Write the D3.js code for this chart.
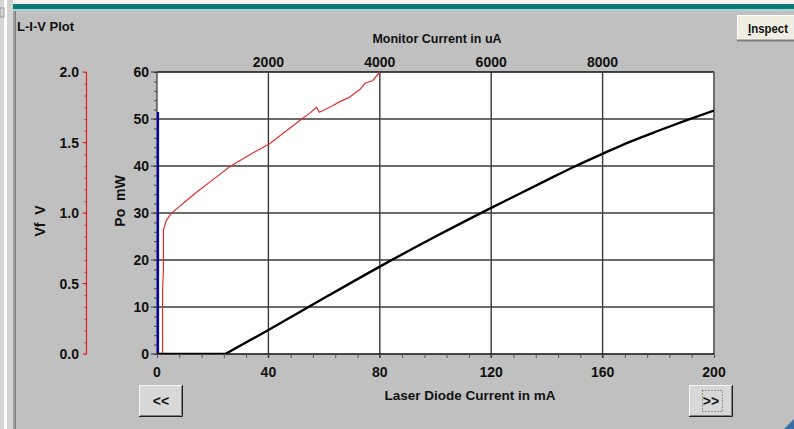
<!DOCTYPE html>
<html>
<head>
<meta charset="utf-8">
<script src="https://cdn.jsdelivr.net/npm/d3@7"></script>
<style>
  html, body { margin: 0; padding: 0; background: #c0c0c0; }
  svg { display: block; }
  text { font-family: "Liberation Sans", Arial, sans-serif; font-weight: bold; fill: #111; }
</style>
</head>
<body>
<svg id="chart" width="794" height="429"></svg>
<script>
// Laser diode current (mA) and optical power Po (mW)
const powerCurrent = [0, 24.5, 40, 60, 80, 100, 120, 140, 150, 160, 170, 180, 190, 200];
const powerValues  = [0, 0, 5.1, 11.9, 18.6, 25, 31.1, 37, 39.9, 42.6, 45.2, 47.5, 49.7, 51.8];

// Laser diode current (mA) and forward voltage Vf (V)
const voltCurrent = [2.0, 2.0, 2.3, 2.3, 3.4, 5.3, 7.7, 10.7, 15, 20, 26.2, 33, 40.3, 46, 52, 55, 57.3, 58.3, 60, 63, 65.7, 69, 72.9, 74.7, 77.5, 80];
const voltValues  = [0, 0.45, 0.6, 0.88, 0.95, 1.0, 1.04, 1.09, 1.16, 1.235, 1.33, 1.41, 1.49, 1.576, 1.667, 1.71, 1.75, 1.715, 1.73, 1.76, 1.79, 1.82, 1.877, 1.92, 1.94, 2.0];

// Monitor photodiode current (uA) against Po (mW)
const monitorCurrent = [0, 0];
const monitorPower   = [0, 51.5];

// Tick labels
const bottomTicks = [0, 40, 80, 120, 160, 200];
const topTicks    = [2000, 4000, 6000, 8000];
const powerTicks  = [0, 10, 20, 30, 40, 50, 60];
const voltTicks   = [0.0, 0.5, 1.0, 1.5, 2.0];

const svg = d3.select("#chart");

// ---- window chrome ----
svg.append("rect").attr("x", 0).attr("y", 0).attr("width", 794).attr("height", 429).attr("fill", "#c0c0c0");
svg.append("rect").attr("x", 12).attr("y", 0).attr("width", 782).attr("height", 4).attr("fill", "#f4f4f4");
svg.append("rect").attr("x", 12).attr("y", 4).attr("width", 782).attr("height", 5).attr("fill", "#0c7c78");
svg.append("rect").attr("x", 12).attr("y", 9).attr("width", 782).attr("height", 2).attr("fill", "#a8d4d0");
svg.append("rect").attr("x", 0).attr("y", 0).attr("width", 4).attr("height", 429).attr("fill", "#d6d6d6");
svg.append("rect").attr("x", 4).attr("y", 0).attr("width", 3).attr("height", 429).attr("fill", "#ffffff");
svg.append("rect").attr("x", 7).attr("y", 0).attr("width", 6).attr("height", 429).attr("fill", "#d2d2d2");
svg.append("rect").attr("x", 13).attr("y", 11).attr("width", 2).attr("height", 418).attr("fill", "#a0a0a0");
svg.append("rect").attr("x", 15).attr("y", 11).attr("width", 1).attr("height", 418).attr("fill", "#7a7a7a");
svg.append("rect").attr("x", 0).attr("y", 8).attr("width", 4).attr("height", 9).attr("fill", "none").attr("stroke", "#9a9a9a");
svg.append("path").attr("d", "M784,429 L794,419 L794,429 Z").attr("fill", "#3a6ea5");

svg.append("text").attr("x", 17).attr("y", 31).attr("font-size", 13).text("L-I-V Plot");

// Inspect button (runs off the window's right edge)
const ib = svg.append("g");
ib.append("rect").attr("x", 737).attr("y", 15).attr("width", 60).attr("height", 25).attr("fill", "#f0eee2");
ib.append("path").attr("d", "M737.5,40 L737.5,15.5 L797,15.5").attr("fill", "none").attr("stroke", "#ffffff");
ib.append("path").attr("d", "M737,40.5 L797,40.5").attr("fill", "none").attr("stroke", "#808080").attr("stroke-width", 2);
const it = ib.append("text").attr("x", 748).attr("y", 33).attr("font-size", 13)
  .attr("textLength", 40).attr("lengthAdjust", "spacingAndGlyphs");
it.append("tspan").attr("text-decoration", "underline").text("I");
it.append("tspan").text("nspect");

// ---- scales ----
const L = 157, R = 714, T = 72, B = 354;
const x = d3.scaleLinear().domain([0, 200]).range([L, R]);
const xTop = d3.scaleLinear().domain([0, 10000]).range([L, R]);
const y = d3.scaleLinear().domain([0, 60]).range([B, T]);
const yV = d3.scaleLinear().domain([0, 2]).range([B, T]);

// plot area
svg.append("rect").attr("x", L).attr("y", T).attr("width", R - L).attr("height", B - T).attr("fill", "#ffffff");

svg.append("defs").append("clipPath").attr("id", "plotClip")
  .append("rect").attr("x", L).attr("y", T - 1).attr("width", R - L).attr("height", B - T + 1);

// grid
const grid = svg.append("g").attr("stroke", "#3a3a3a").attr("stroke-width", 1.4);
grid.selectAll("line.h").data(powerTicks.filter(v => v > 0 && v < 60)).join("line")
  .attr("x1", L).attr("x2", R).attr("y1", d => y(d)).attr("y2", d => y(d));
grid.selectAll("line.v").data(bottomTicks.filter(v => v > 0 && v < 200)).join("line")
  .attr("y1", T).attr("y2", B + 4).attr("x1", d => x(d)).attr("x2", d => x(d));

// plot borders
svg.append("line").attr("x1", L).attr("x2", R).attr("y1", T).attr("y2", T).attr("stroke", "#111").attr("stroke-width", 1.5);
svg.append("line").attr("x1", L).attr("x2", L).attr("y1", T).attr("y2", B).attr("stroke", "#111").attr("stroke-width", 1);
svg.append("line").attr("x1", R).attr("x2", R).attr("y1", T).attr("y2", B).attr("stroke", "#6a6a6a").attr("stroke-width", 2);
svg.append("line").attr("x1", L).attr("x2", R).attr("y1", B).attr("y2", B).attr("stroke", "#111").attr("stroke-width", 1.5);

// ---- axes ----
function styleAxis(g, color) {
  g.select(".domain").remove();
  g.selectAll(".tick line").attr("stroke", color);
}

// bottom axis: minor ticks every 8 mA, labels at 40 mA steps
const bottomAxis = svg.append("g").attr("transform", `translate(0,${B})`);
bottomAxis.call(d3.axisBottom(x).tickValues(d3.range(0, 201, 8)).tickSize(4).tickFormat(""));
styleAxis(bottomAxis, "#555");
svg.append("g").selectAll("text").data(bottomTicks).join("text")
  .attr("x", d => x(d)).attr("y", 377).attr("text-anchor", "middle").attr("font-size", 14).text(d => d);

// top axis labels (monitor current)
svg.append("g").selectAll("text").data(topTicks).join("text")
  .attr("x", d => xTop(d)).attr("y", 67).attr("text-anchor", "middle").attr("font-size", 14).text(d => d);

// Po axis
const powerAxis = svg.append("g").attr("transform", `translate(${L},0)`);
powerAxis.call(d3.axisLeft(y).tickValues(d3.range(0, 61, 2)).tickSize(3).tickFormat(""));
styleAxis(powerAxis, "#444");
svg.append("g").selectAll("line").data(powerTicks).join("line")
  .attr("x1", L - 6).attr("x2", L).attr("y1", d => y(d)).attr("y2", d => y(d)).attr("stroke", "#333");
svg.append("g").selectAll("text").data(powerTicks).join("text")
  .attr("x", 149).attr("y", d => y(d) + 5).attr("text-anchor", "end").attr("font-size", 14).text(d => d);

// Vf axis
const vx = 86.5;
svg.append("line").attr("x1", vx).attr("x2", vx).attr("y1", T).attr("y2", B).attr("stroke", "#e02020").attr("stroke-width", 1.2);
const voltAxis = svg.append("g").attr("transform", `translate(${vx},0)`);
voltAxis.call(d3.axisLeft(yV).tickValues(d3.range(0, 25).map(i => i / 12)).tickSize(2).tickFormat(""));
styleAxis(voltAxis, "#e02020");
svg.append("g").selectAll("line").data(voltTicks).join("line")
  .attr("x1", vx - 4).attr("x2", vx).attr("y1", d => yV(d)).attr("y2", d => yV(d)).attr("stroke", "#e02020");
svg.append("g").selectAll("text").data(voltTicks).join("text")
  .attr("x", 79).attr("y", d => yV(d) + 5).attr("text-anchor", "end").attr("font-size", 14).text(d => d.toFixed(1));

// axis titles
svg.append("text").attr("x", 437).attr("y", 43).attr("text-anchor", "middle").attr("font-size", 12.5).text("Monitor Current in uA");
svg.append("text").attr("x", 470).attr("y", 400).attr("text-anchor", "middle").attr("font-size", 13.5).text("Laser Diode Current in mA");
svg.append("text").attr("transform", "translate(125,201) rotate(-90)").attr("text-anchor", "middle").attr("font-size", 14)
  .attr("xml:space", "preserve").text("Po  mW");
svg.append("text").attr("transform", "translate(45,221) rotate(-90)").attr("text-anchor", "middle").attr("font-size", 14)
  .attr("xml:space", "preserve").text("Vf  V");

// ---- series ----
const series = svg.append("g").attr("clip-path", "url(#plotClip)");

series.append("path")
  .datum(monitorCurrent.map((c, i) => [c, monitorPower[i]]))
  .attr("fill", "none").attr("stroke", "#0000b4").attr("stroke-width", 2.2)
  .attr("d", d3.line().x(d => xTop(d[0]) + 1).y(d => y(d[1])));

series.append("path")
  .datum(voltCurrent.map((c, i) => [c, voltValues[i]]))
  .attr("fill", "none").attr("stroke", "#dd3030").attr("stroke-width", 1.2)
  .attr("d", d3.line().x(d => x(d[0])).y(d => yV(d[1])));

// L-I curve: flat below threshold, smooth above it
const liPoints = powerCurrent.map((c, i) => [c, powerValues[i]]);
const lineLI = d3.line().x(d => x(d[0])).y(d => y(d[1]));
series.append("path")
  .datum(liPoints.slice(0, 2))
  .attr("fill", "none").attr("stroke", "#000").attr("stroke-width", 2.4)
  .attr("d", lineLI);
series.append("path")
  .datum(liPoints.slice(1))
  .attr("fill", "none").attr("stroke", "#000").attr("stroke-width", 2.4)
  .attr("d", lineLI.curve(d3.curveMonotoneX));

// ---- navigation buttons ----
function button(x0, y0, w, h, label, focused) {
  const g = svg.append("g");
  g.append("rect").attr("x", x0).attr("y", y0).attr("width", w).attr("height", h).attr("fill", "#d8d8d8");
  g.append("path").attr("d", `M${x0 + 0.5},${y0 + h} L${x0 + 0.5},${y0 + 0.5} L${x0 + w},${y0 + 0.5}`)
    .attr("fill", "none").attr("stroke", "#f8f8f8");
  g.append("path").attr("d", `M${x0 + 1},${y0 + h - 1.5} L${x0 + w - 1.5},${y0 + h - 1.5} L${x0 + w - 1.5},${y0 + 1}`)
    .attr("fill", "none").attr("stroke", "#808080");
  g.append("path").attr("d", `M${x0},${y0 + h - 0.5} L${x0 + w - 0.5},${y0 + h - 0.5} L${x0 + w - 0.5},${y0}`)
    .attr("fill", "none").attr("stroke", "#202020");
  if (focused) {
    g.append("rect").attr("x", x0 + 13.5).attr("y", y0 + 5.5).attr("width", w - 24).attr("height", h - 11)
      .attr("fill", "none").attr("stroke", "#555").attr("stroke-dasharray", "1,2");
  }
  g.append("text").attr("x", x0 + w / 2).attr("y", y0 + h / 2 + 5).attr("text-anchor", "middle")
    .attr("font-size", 14).text(label);
}
button(139, 385, 44, 32, "<<", false);
button(689, 385, 44, 32, ">>", true);
</script>
</body>
</html>
